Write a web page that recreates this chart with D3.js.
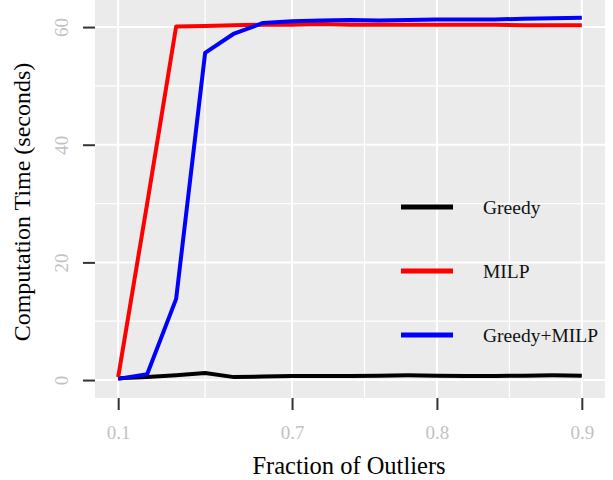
<!DOCTYPE html>
<html>
<head>
<meta charset="utf-8">
<script src="https://cdn.jsdelivr.net/npm/d3@7"></script>
<style>
  body { margin: 0; background: #fff; }
  svg { display: block; font-family: "Liberation Serif", "DejaVu Serif", serif; }
</style>
</head>
<body>
<svg id="chart" width="613" height="480"></svg>
<script>
// categories along the x axis (discrete steps, not evenly spaced in value)
const xCategories = ["0.1", "0.2", "0.3", "0.4", "0.5", "0.6", "0.7", "0.72", "0.74", "0.76",
                     "0.78", "0.8", "0.82", "0.84", "0.86", "0.88", "0.9"]
const xTickLabels = ["0.1", "0.7", "0.8", "0.9"]
const yTicks = [0, 20, 40, 60]
const yMinorTicks = [10, 30, 50]

const seriesNames = ["Greedy", "MILP", "Greedy+MILP"]
const seriesColors = ["#000000", "#ff0000", "#0000ff"]

const greedy = [0.3, 0.5, 0.8, 1.2, 0.5, 0.6, 0.7, 0.7, 0.7, 0.75, 0.8, 0.75, 0.7, 0.7, 0.75, 0.8, 0.75]
const milp = [0.5, 30, 60.1, 60.2, 60.3, 60.4, 60.4, 60.5, 60.4, 60.4, 60.4, 60.4, 60.4, 60.4, 60.3, 60.3, 60.3]
const greedyMilp = [0.2, 1.0, 13.8, 55.6, 58.9, 60.7, 61.0, 61.1, 61.2, 61.1, 61.2, 61.3, 61.3, 61.3, 61.4, 61.5, 61.6]

const seriesValues = [greedy, milp, greedyMilp]

const panel = { left: 95, right: 605, top: 0, bottom: 398 }

const svg = d3.select("#chart")

const x = d3.scalePoint()
    .domain(xCategories)
    .range([panel.left, panel.right])
    .padding(0.8)

const y = d3.scaleLinear()
    .domain([-3.05, 64.6])
    .range([panel.bottom, panel.top])

// panel background
svg.append("rect")
    .attr("x", panel.left)
    .attr("y", panel.top)
    .attr("width", panel.right - panel.left)
    .attr("height", panel.bottom - panel.top)
    .attr("fill", "#ebebeb")

// grid: minor x lines sit half way between labelled ticks
const xMajor = xTickLabels.map(d => x(d))
const xMinor = d3.pairs(xMajor).map(([a, b]) => (a + b) / 2)

const grid = svg.append("g").attr("stroke", "#fff")

grid.selectAll(".ymin").data(yMinorTicks).join("line")
    .attr("x1", panel.left).attr("x2", panel.right)
    .attr("y1", d => y(d)).attr("y2", d => y(d))
    .attr("stroke-width", 1.2)

grid.selectAll(".xmin").data(xMinor).join("line")
    .attr("x1", d => d).attr("x2", d => d)
    .attr("y1", panel.top).attr("y2", panel.bottom)
    .attr("stroke-width", 1.2)

grid.selectAll(".ymaj").data(yTicks).join("line")
    .attr("x1", panel.left).attr("x2", panel.right)
    .attr("y1", d => y(d)).attr("y2", d => y(d))
    .attr("stroke-width", 2)

grid.selectAll(".xmaj").data(xMajor).join("line")
    .attr("x1", d => d).attr("x2", d => d)
    .attr("y1", panel.top).attr("y2", panel.bottom)
    .attr("stroke-width", 2)

// series lines
const line = d3.line()
    .x((d, i) => x(xCategories[i]))
    .y(d => y(d))

svg.append("g")
    .selectAll("path")
    .data(seriesValues)
    .join("path")
    .attr("fill", "none")
    .attr("stroke", (d, i) => seriesColors[i])
    .attr("stroke-width", 4)
    .attr("stroke-linejoin", "round")
    .attr("d", line)

// axes
const xAxis = svg.append("g")
    .attr("transform", `translate(0,${panel.bottom})`)
    .call(d3.axisBottom(x).tickValues(xTickLabels).tickSize(12).tickPadding(16))
xAxis.attr("font-family", null).attr("font-size", null)
xAxis.select(".domain").remove()
xAxis.selectAll(".tick line").attr("stroke", "#333").attr("stroke-width", 2)
xAxis.selectAll(".tick text")
    .attr("fill", "#c2c2c2")
    .attr("font-size", 19)

const yAxis = svg.append("g")
    .attr("transform", `translate(${panel.left},0)`)
    .call(d3.axisLeft(y).tickValues(yTicks).tickSize(12))
yAxis.attr("font-family", null).attr("font-size", null)
yAxis.select(".domain").remove()
yAxis.selectAll(".tick line").attr("stroke", "#333").attr("stroke-width", 2)
yAxis.selectAll(".tick text")
    .attr("fill", "#c2c2c2")
    .attr("font-size", 19)
    .attr("text-anchor", "middle")
    .attr("dy", null)
    .attr("x", null)
    .attr("transform", "translate(-27,0) rotate(-90)")

// axis titles
svg.append("text")
    .attr("x", 349)
    .attr("y", 474)
    .attr("text-anchor", "middle")
    .attr("font-size", 24.5)
    .attr("fill", "#000")
    .text("Fraction of Outliers")

svg.append("text")
    .attr("transform", "translate(30,202) rotate(-90)")
    .attr("text-anchor", "middle")
    .attr("font-size", 24)
    .attr("fill", "#000")
    .text("Computation Time (seconds)")

// legend (no box, drawn over the panel)
const legend = svg.append("g")
    .selectAll("g")
    .data(seriesNames)
    .join("g")
    .attr("transform", (d, i) => `translate(401,${207 + i * 64})`)

legend.append("line")
    .attr("x1", 0).attr("x2", 52)
    .attr("stroke", (d, i) => seriesColors[i])
    .attr("stroke-width", 5)

legend.append("text")
    .attr("x", 82)
    .attr("y", 7)
    .attr("font-size", 19.5)
    .attr("fill", "#111")
    .text(d => d)
</script>
</body>
</html>
